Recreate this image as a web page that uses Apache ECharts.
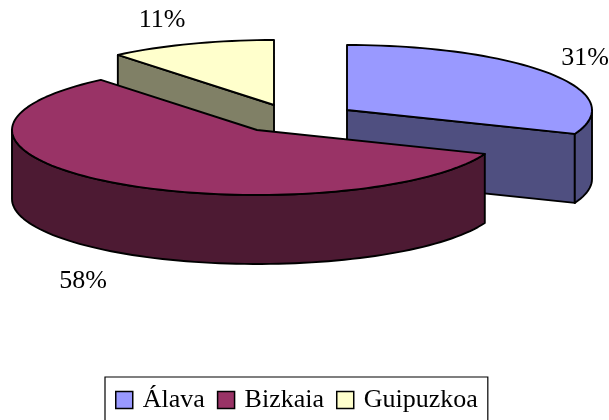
<!DOCTYPE html>
<html>
<head>
<meta charset="utf-8">
<style>html,body{margin:0;padding:0;background:#fff;overflow:hidden}#c{width:609px;height:420px}</style>
<script src="https://cdn.jsdelivr.net/npm/echarts@6/dist/echarts.min.js"></script>
</head>
<body>
<div id="c"></div>
<script>
const categories = ['Álava', 'Bizkaia', 'Guipuzkoa'];
const values = [31, 58, 11];
const percentLabels = ['31%', '58%', '11%'];
const topColors = ['#9999FF', '#993366', '#FFFFCC'];
const wallColors = ['#4F4F80', '#4D1A33', '#808066'];

// Layout of the exploded tilted pie
const centres = [[347, 110], [257, 130], [274, 105]];
const labelSpots = [[585, 58], [83, 281], [162, 20]];
const layers = [2, 3, 1];
const RX = 245, RY = 65, DEPTH = 69;

const total = values.reduce((a, b) => a + b, 0);
const toRad = d => d * Math.PI / 180;
function rim(c, deg, drop) {
  return [c[0] + RX * Math.sin(toRad(deg)), c[1] - RY * Math.cos(toRad(deg)) + (drop || 0)];
}
function arcPts(c, from, to, drop) {
  const pts = [], n = Math.max(2, Math.ceil(Math.abs(to - from) / 2));
  for (let i = 0; i <= n; i++) pts.push(rim(c, from + (to - from) * i / n, drop));
  return pts;
}
function startAngle(i) {
  let s = 0;
  for (let k = 0; k < i; k++) s += values[k];
  return s / total * 360;
}
const edge = { stroke: '#000', lineWidth: 1.9, lineJoin: 'round' };

function makeRender(i) {
  return function (params, api) {
    const v = api.value(0);
    const a0 = startAngle(i), a1 = a0 + v / total * 360;
    const c = centres[i], low = [c[0], c[1] + DEPTH];
    const wall = Object.assign({ fill: wallColors[i] }, edge);
    const children = [];
    const face = deg => children.push({
      type: 'polygon',
      shape: { points: [c, rim(c, deg), rim(c, deg, DEPTH), low] },
      style: wall
    });
    if (a1 > 0 && a1 < 180) face(a1);
    if (a0 > 180 && a0 < 360) face(a0);
    const w0 = Math.max(a0, 90), w1 = Math.min(a1, 270);
    if (w1 > w0) {
      children.push({
        type: 'polygon',
        shape: { points: arcPts(c, w0, w1, 0).concat(arcPts(c, w1, w0, DEPTH)) },
        style: wall
      });
    }
    children.push({
      type: 'polygon',
      shape: { points: [c].concat(arcPts(c, a0, a1, 0)) },
      style: Object.assign({ fill: topColors[i] }, edge)
    });
    children.push({
      type: 'text',
      style: {
        text: percentLabels[i], x: labelSpots[i][0], y: labelSpots[i][1],
        fill: '#000', font: '26px "Liberation Serif"', align: 'center', verticalAlign: 'middle'
      }
    });
    return { type: 'group', children };
  };
}

const chart = echarts.init(document.getElementById('c'), null, { renderer: 'canvas' });
chart.setOption({
  animation: false,
  backgroundColor: '#fff',
  legend: {
    data: categories,
    left: 105, top: 377,
    orient: 'horizontal',
    padding: [10, 10, 10, 10],
    itemGap: 12,
    itemWidth: 17, itemHeight: 17,
    icon: 'rect',
    borderColor: '#000', borderWidth: 1.2,
    itemStyle: { borderColor: '#000', borderWidth: 1.5 },
    textStyle: { fontFamily: 'Liberation Serif', fontSize: 26, color: '#000', padding: [0, 0, 0, 5] },
    selectedMode: false
  },
  series: categories.map((name, i) => ({
    type: 'custom',
    name,
    coordinateSystem: 'none',
    z: layers[i],
    silent: true,
    itemStyle: { color: topColors[i] },
    data: [[values[i]]],
    renderItem: makeRender(i)
  }))
});
</script>
</body>
</html>
